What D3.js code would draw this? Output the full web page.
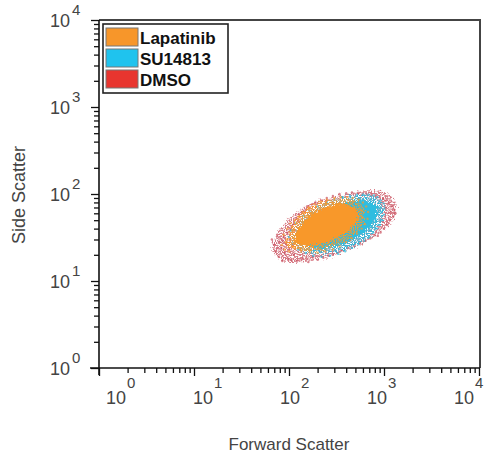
<!DOCTYPE html>
<html>
<head>
<meta charset="utf-8">
<script src="https://cdn.jsdelivr.net/npm/d3@7"></script>
<style>
  body { margin: 0; background: #fff; }
  text { font-family: "Liberation Sans", Arial, sans-serif; }
</style>
</head>
<body>
<svg id="chart" width="490" height="459"></svg>
<script>
const decades = [1, 10, 100, 1000, 10000];
const seriesNames = ['Lapatinib', 'SU14813', 'DMSO'];
const seriesColors = ['#f7962a', '#1fc3ee', '#e8352f'];

// dense regions of each population, [forward, side]
const lapatinibCore = [[98,30],[112,46],[149,66],[215,80],[333,89],[468,86],[597,72],[630,53],[542,38],[395,29],[261,24],[169,22],[118,23],[98,25]];
const su14813Core = [[109,30],[132,50],[190,69],[310,88],[504,97],[761,95],[970,75],[946,50],[761,35],[504,26],[310,21.5],[190,20.4],[132,22.7]];
const dmsoCore = [[67,22.7],[77,36.6],[109,57],[177,79],[350,97],[722,108],[1175,97],[1364,69],[1122,44],[690,29.6],[350,21],[169,17],[92,16.6]];

// scattered events outside the dense regions
const lapatinibEvents = [[95,30],[98,26],[102,36],[108,42],[115,50],[125,55],[140,62],[160,70],[185,76],[215,82],[250,86],[300,90],[350,92],[410,92],[470,90],[540,86],[600,80],[650,72],[680,62],[670,52],[630,45],[580,40],[520,35],[460,31],[400,28],[340,25],[290,23],[240,22],[200,21],[165,21.5],[135,22.5],[112,24],[100,22],[92,28],[88,34],[84,26],[90,23],[96,40],[104,46]];
const su14813Events = [[780,96],[850,92],[920,85],[990,78],[1010,68],[1000,58],[960,50],[900,44],[840,40],[770,36],[700,32],[620,29],[540,26.5],[460,24],[390,22],[330,20.5],[270,19.5],[220,19],[180,19.5],[150,21],[125,23],[108,27],[100,32],[105,38],[118,46],[140,56],[165,64],[200,72],[250,80],[300,86],[370,92],[440,95],[520,98],[600,99],[690,98],[880,70],[940,62],[820,50]];
const dmsoEvents = [[66,30],[70,26],[72,22],[75,34],[78,19],[80,28],[83,24],[85,17],[88,32],[90,21],[93,27],[95,36],[98,18],[100,23],[103,30],[106,17.5],[110,26],[112,20],[76,24],[86,29],
  [105,40],[112,45],[120,52],[128,58],[138,62],[150,66],[160,72],[175,76],[190,80],[115,38],[125,48],
  [220,84],[250,90],[290,95],[340,100],[400,102],[460,104],[530,103],[600,101],[660,99],
  [740,98],[820,96],[900,92],[980,88],[1050,84],[1120,78],[1200,72],[1280,66],[1320,60],[1250,55],[1150,50],[1080,44],[1000,40],[920,36],[860,33],[1180,62],[1040,70],[950,80],
  [120,17],[140,18],[160,16.5],[180,19],[200,17.5],[230,18.5],[260,19.5],[290,20],[320,21],[360,22.5],[420,24],[480,25.5],[560,27],[640,29],[720,31],[800,33.5]];

const svg = d3.select('#chart');

const x = d3.scaleLog().domain([1, 1e4]).range([99, 479]);
const y = d3.scaleLog().domain([1, 1e4]).range([368, 20]);
const labelX = d3.scaleLog().domain([1, 1e4]).range([116, 464]);

const defs = svg.append('defs');

// grainy: rough outline, punched with noise so it reads as single events
const grain = defs.append('filter').attr('id', 'grain')
  .attr('x', '-20%').attr('y', '-20%').attr('width', '140%').attr('height', '140%');
grain.append('feTurbulence').attr('type', 'fractalNoise').attr('baseFrequency', 0.5)
  .attr('numOctaves', 2).attr('seed', 3).attr('result', 'wobble');
grain.append('feDisplacementMap').attr('in', 'SourceGraphic').attr('in2', 'wobble')
  .attr('scale', 9).attr('xChannelSelector', 'R').attr('yChannelSelector', 'G').attr('result', 'shape');
grain.append('feTurbulence').attr('type', 'fractalNoise').attr('baseFrequency', 0.9)
  .attr('numOctaves', 1).attr('seed', 8).attr('result', 'dots');
grain.append('feColorMatrix').attr('in', 'dots').attr('type', 'matrix')
  .attr('values', '0 0 0 0 0  0 0 0 0 0  0 0 0 0 0  7 0 0 0 -2.9').attr('result', 'mask');
grain.append('feComposite').attr('in', 'shape').attr('in2', 'mask').attr('operator', 'in');

// solid centre: shrunk outline, rough edge
const core = defs.append('filter').attr('id', 'core')
  .attr('x', '-20%').attr('y', '-20%').attr('width', '140%').attr('height', '140%');
core.append('feMorphology').attr('in', 'SourceGraphic').attr('operator', 'erode').attr('radius', 5).attr('result', 'shrunk');
core.append('feTurbulence').attr('type', 'fractalNoise').attr('baseFrequency', 0.6)
  .attr('numOctaves', 2).attr('seed', 11).attr('result', 'wobble');
core.append('feDisplacementMap').attr('in', 'shrunk').attr('in2', 'wobble')
  .attr('scale', 7).attr('xChannelSelector', 'R').attr('yChannelSelector', 'G');

const line = d3.line()
  .x(d => x(d[0]))
  .y(d => y(d[1]))
  .curve(d3.curveCatmullRomClosed);

// drawn bottom to top: DMSO, SU14813, Lapatinib
const layers = [
  { core: dmsoCore, events: dmsoEvents, color: '#c9505e', solid: false, opacity: 0.75 },
  { core: su14813Core, events: su14813Events, color: '#2dbde0', solid: true, opacity: 0.9 },
  { core: lapatinibCore, events: lapatinibEvents, color: '#f8982c', solid: true, opacity: 0.9 }
];

const cloud = svg.append('g');
layers.forEach(layer => {
  cloud.append('path')
    .attr('d', line(layer.core))
    .attr('fill', layer.color)
    .attr('fill-opacity', layer.opacity)
    .attr('filter', 'url(#grain)');
  if (layer.solid) {
    cloud.append('path')
      .attr('d', line(layer.core))
      .attr('fill', layer.color)
      .attr('filter', 'url(#core)');
  }
  cloud.append('g')
    .selectAll('circle')
    .data(layer.events)
    .join('circle')
    .attr('cx', d => x(d[0]))
    .attr('cy', d => y(d[1]))
    .attr('r', 1.2)
    .attr('fill', layer.color)
    .attr('fill-opacity', 0.7);
});

// frame
svg.append('path')
  .attr('d', `M${x(1)},${y(1e4)}H480V${y(1)}`)
  .attr('fill', 'none')
  .attr('stroke', '#444')
  .attr('stroke-width', 2);

const minor = x.ticks().filter(v => !decades.includes(v));

function tidy(g) {
  g.select('.domain').remove();
  g.selectAll('line').attr('stroke', '#111').attr('stroke-width', 1.3);
}

svg.append('g').attr('transform', `translate(0,${y(1)})`)
  .call(d3.axisBottom(x).tickValues(minor).tickSize(5).tickFormat(''))
  .call(tidy);
svg.append('g').attr('transform', `translate(0,${y(1)})`)
  .call(d3.axisBottom(x).tickValues(decades).tickSize(8).tickFormat(''))
  .call(tidy);
svg.append('g').attr('transform', `translate(${x(1)},0)`)
  .call(d3.axisLeft(y).tickValues(minor).tickSize(5).tickFormat(''))
  .call(tidy);
svg.append('g').attr('transform', `translate(${x(1)},0)`)
  .call(d3.axisLeft(y).tickValues(decades).tickSize(8).tickFormat(''))
  .call(tidy);

svg.append('line')
  .attr('x1', x(1)).attr('x2', x(1)).attr('y1', y(1e4)).attr('y2', y(1) + 7)
  .attr('stroke', '#111').attr('stroke-width', 1.6);
svg.append('line')
  .attr('x1', x(1) - 9).attr('x2', 480).attr('y1', y(1)).attr('y2', y(1))
  .attr('stroke', '#111').attr('stroke-width', 1.6);

// tick labels as 10 with superscript exponent
const xLabels = svg.append('g').selectAll('g').data(decades).join('g')
  .attr('transform', d => `translate(${labelX(d)},404)`);
xLabels.append('text').attr('text-anchor', 'middle').attr('font-size', 18).attr('fill', '#444').text('10');
xLabels.append('text').attr('x', 11).attr('y', -16).attr('font-size', 15).attr('fill', '#444')
  .text(d => Math.round(Math.log10(d)));

const yLabels = svg.append('g').selectAll('g').data(decades).join('g')
  .attr('transform', d => `translate(70,${y(d) + 7})`);
yLabels.append('text').attr('text-anchor', 'end').attr('font-size', 18).attr('fill', '#444').text('10');
yLabels.append('text').attr('x', 2).attr('y', -12).attr('font-size', 15).attr('fill', '#444')
  .text(d => Math.round(Math.log10(d)));

svg.append('text')
  .attr('x', 289).attr('y', 450)
  .attr('text-anchor', 'middle')
  .attr('font-size', 17)
  .attr('fill', '#444')
  .text('Forward Scatter');

svg.append('text')
  .attr('transform', 'translate(25,195) rotate(-90)')
  .attr('text-anchor', 'middle')
  .attr('font-size', 18)
  .attr('fill', '#444')
  .text('Side Scatter');

// legend
const legend = svg.append('g');
legend.append('rect')
  .attr('x', 103).attr('y', 24).attr('width', 125).attr('height', 69)
  .attr('fill', '#fff').attr('stroke', '#222').attr('stroke-width', 1.6);
const rows = legend.selectAll('g').data(seriesNames).join('g')
  .attr('transform', (d, i) => `translate(106,${28 + i * 21})`);
rows.append('rect')
  .attr('width', 32).attr('height', 18)
  .attr('fill', (d, i) => seriesColors[i])
  .attr('stroke', '#777').attr('stroke-width', 1);
rows.append('text')
  .attr('x', 34).attr('y', 16)
  .attr('font-size', 17).attr('font-weight', 'bold').attr('fill', '#111')
  .text(d => d);
</script>
</body>
</html>
